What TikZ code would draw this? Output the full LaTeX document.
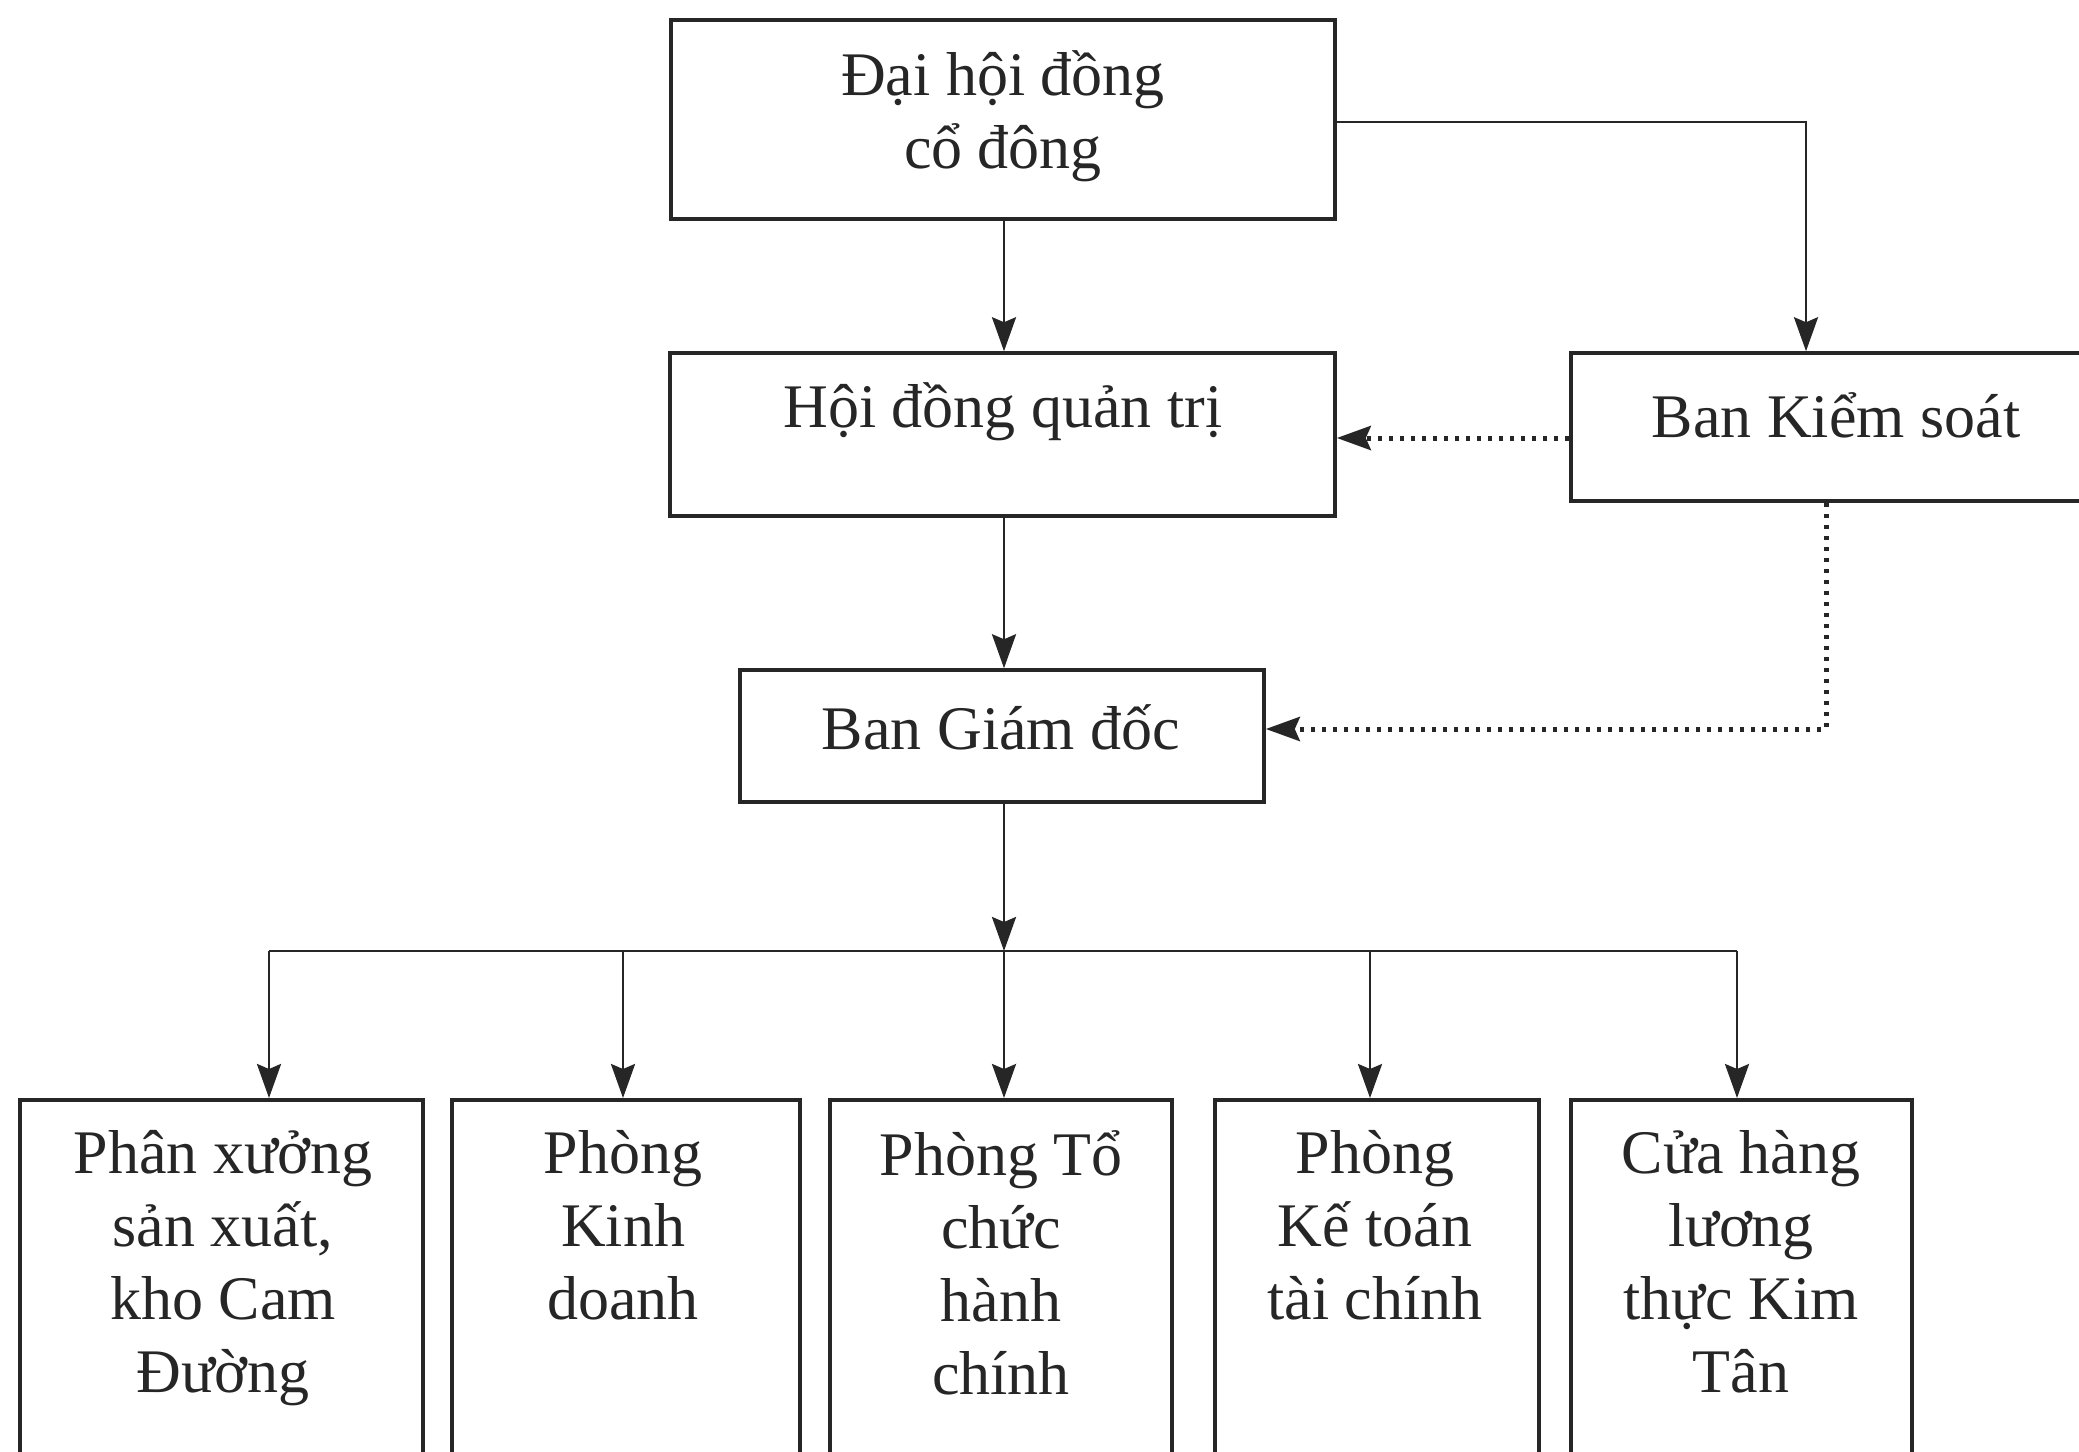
\documentclass[tikz,border=0pt]{standalone}
\usepackage{fontspec}
\setmainfont{Liberation Serif}
\usetikzlibrary{arrows.meta}
\begin{document}
\begin{tikzpicture}[x=1pt,y=-1pt,
  box/.style={draw=black!85, line width=3.5pt, rectangle, inner sep=0pt},
  txt/.style={align=center, font=\fontsize{62}{73}\selectfont, text=black!85, inner sep=0pt},
  conn/.style={draw=black!85, line width=2.8pt},
  tip/.style={-{Stealth[length=34pt,width=24pt,inset=5pt]}},
  dots/.style={draw=black!85, line width=5pt, dash pattern=on 4pt off 7pt}]
\useasboundingbox (0,0) rectangle (2079,1451);
\clip (0,0) rectangle (2079,1451);
% boxes
\node[box, minimum width=664pt, minimum height=199pt] (dh) at (1003,119.5) {};
\node[txt] (dht) at (1003,116) {Đại hội đồng\\cổ đông};
\node[box, minimum width=665pt, minimum height=163pt] (hd) at (1002.5,434.5) {};
\node[txt] (hdt) at (1003,412) {Hội đồng quản trị};
\node[box, minimum width=530pt, minimum height=148pt] (ks) at (1836,427) {};
\node[txt] (kst) at (1836,415) {Ban Kiểm soát};
\node[box, minimum width=524pt, minimum height=132pt] (bgd) at (1002,736) {};
\node[txt] (bgdt) at (1001,727) {Ban Giám đốc};
% bottom boxes
\node[box, minimum width=403pt, minimum height=380pt, anchor=north] (b1) at (221.5,1098) {};
\node[box, minimum width=348pt, minimum height=380pt, anchor=north] (b2) at (626,1098) {};
\node[box, minimum width=342pt, minimum height=380pt, anchor=north] (b3) at (1001,1098) {};
\node[box, minimum width=324pt, minimum height=380pt, anchor=north] (b4) at (1377,1098) {};
\node[box, minimum width=341pt, minimum height=380pt, anchor=north] (b5) at (1741.5,1098) {};
\node[txt, anchor=north] (b1t) at (223,1130) {Phân xưởng\\sản xuất,\\kho Cam\\Đường};
\node[txt, anchor=north] (b2t) at (623,1130) {Phòng\\Kinh\\doanh};
\node[txt, anchor=north] (b3t) at (1001,1130) {Phòng Tổ\\chức\\hành\\chính};
\node[txt, anchor=north] (b4t) at (1375,1130) {Phòng\\Kế toán\\tài chính};
\node[txt, anchor=north] (b5t) at (1741,1130) {Cửa hàng\\lương\\thực Kim\\Tân};
% bus coordinates
\coordinate (bus) at (1004,951);
\coordinate (p1) at (269,951);
\coordinate (p2) at (623,951);
\coordinate (p4) at (1370,951);
\coordinate (p5) at (1737,951);
\coordinate (kscorner) at (1806,122);
\coordinate (dotcorner) at (1826,729);
% connectors
\draw[conn, tip] (dh.south -| bus) -- (hd.north -| bus);
\draw[conn, tip] (hd.south -| bus) -- (bgd.north -| bus);
\draw[conn, tip] (bgd.south -| bus) -- (bus);
\draw[conn] (p1) -- (p5);
\draw[conn, tip] (p1) -- (p1 |- b1.north);
\draw[conn, tip] (p2) -- (p2 |- b2.north);
\draw[conn, tip] (bus) -- (bus |- b3.north);
\draw[conn, tip] (p4) -- (p4 |- b4.north);
\draw[conn, tip] (p5) -- (p5 |- b5.north);
\draw[conn, tip] (dh.east |- kscorner) -- (kscorner) -- (kscorner |- ks.north);
% dotted
\draw[dots, tip] (ks.west |- 0,438) -- (hd.east |- 0,438);
\draw[dots, tip] (ks.south -| dotcorner) -- (dotcorner) -- (bgd.east |- dotcorner);
\end{tikzpicture}
\end{document}
